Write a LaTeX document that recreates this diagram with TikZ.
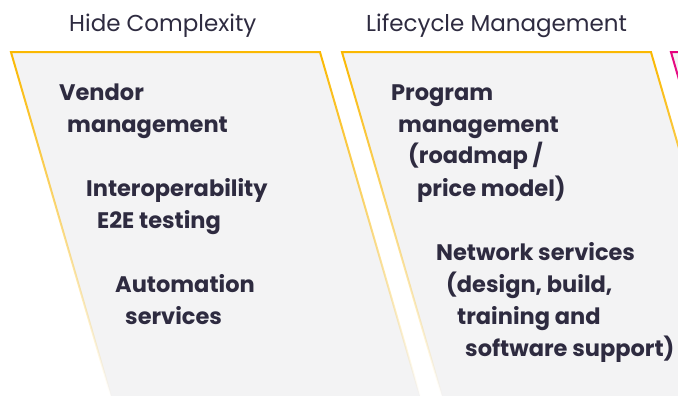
\documentclass[tikz,border=0pt]{standalone}
\usepackage{fontspec}
\setmainfont{Poppins}
\usetikzlibrary{fadings}

\definecolor{panelgray}{HTML}{F3F3F4}
\definecolor{gold}{HTML}{FBB800}
\definecolor{pinkedge}{HTML}{E5007D}
\definecolor{ink}{HTML}{2E2B40}

\tikzfading[name=fade south, top color=transparent!0, middle color=transparent!30, bottom color=transparent!100]

\begin{document}
\begin{tikzpicture}[x=1pt, y=-1pt,
    heading/.style={anchor=base west, inner sep=0pt, text=ink, font=\fontsize{23}{27}\selectfont},
    item/.style={anchor=base west, inner sep=0pt, text=ink, font=\fontsize{22.5}{27}\selectfont\bfseries},
    panel/.style={fill=panelgray},
    edge/.style={line width=2pt, line join=miter, path fading=fade south}]
    \useasboundingbox (0,0) rectangle (678,396);
    \clip (0,0) rectangle (678,396);

    % Panels
    \fill[panel] (11,52) -- (320,52) -- (420,396) -- (111,396) -- cycle;
    \fill[panel] (342,52) -- (651,52) -- (751,396) -- (442,396) -- cycle;
    \fill[panel] (671,52) -- (980,52) -- (1080,396) -- (771,396) -- cycle;

    \draw[edge, draw=gold] (111,396) -- (11,52) -- (320,52) -- (420,396);
    \draw[edge, draw=gold] (442,396) -- (342,52) -- (651,52) -- (751,396);
    \draw[edge, draw=pinkedge] (771,396) -- (671,52) -- (980,52);

    % Headings
    \node[heading] (hide) at (69,32) {Hide Complexity};
    \node[heading] (life) at (366,32) {Lifecycle Management};

    % Hide Complexity
    \node[item] (vendor) at (59,100) {Vendor};
    \node[item] (vendormgmt) at (67,132) {management};
    \node[item] (interop) at (86,196) {Interoperability};
    \node[item] (etest) at (97,228) {E2E testing};
    \node[item] (auto) at (115,292) {Automation};
    \node[item] (autoserv) at (125,324) {services};

    % Lifecycle Management
    \node[item] (prog) at (391,100) {Program};
    \node[item] (progmgmt) at (398,132) {management};
    \node[item] (roadmap) at (408,164) {(roadmap /};
    \node[item] (price) at (417,196) {price model)};
    \node[item] (net) at (436,260) {Network services};
    \node[item] (design) at (446,292) {(design, build,};
    \node[item] (training) at (457,324) {training and};
    \node[item] (software) at (465,356) {software support)};
\end{tikzpicture}
\end{document}
